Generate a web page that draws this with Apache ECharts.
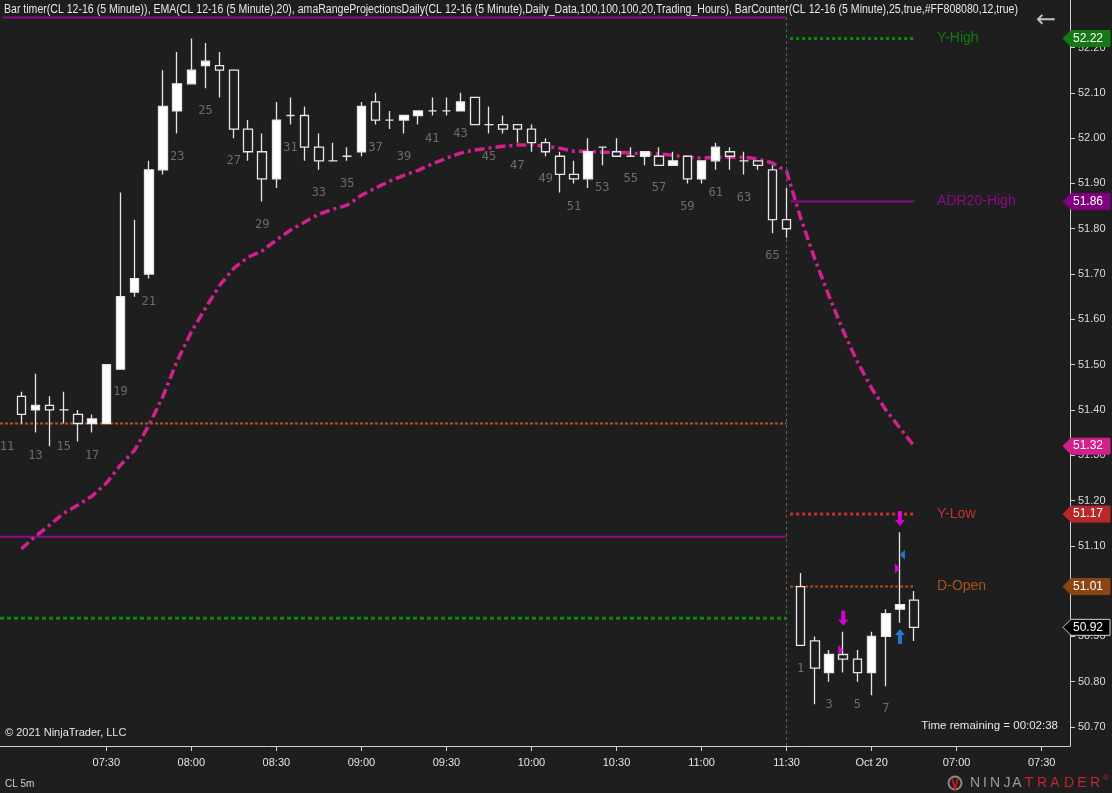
<!DOCTYPE html>
<html><head><meta charset="utf-8">
<script src="https://cdn.jsdelivr.net/npm/echarts@6/dist/echarts.min.js"></script>
<style>html,body{margin:0;padding:0;background:#1e1e1e;}#c{width:1112px;height:793px;}</style>
</head><body><div id="c"></div><script>
// ---- data ----
const barNumbers = [11,12,13,14,15,16,17,18,19,20,21,22,23,24,25,26,27,28,29,30,31,32,33,34,35,36,37,38,39,40,41,42,43,44,45,46,47,48,49,50,51,52,53,54,55,56,57,58,59,60,61,62,63,64,65,66,1,2,3,4,5,6,7,8,9];
const opens  = [null,51.43,51.40,51.41,51.40,51.39,51.37,51.37,51.49,51.66,51.70,51.93,52.06,52.12,52.16,52.16,52.15,52.02,51.97,51.91,52.05,52.05,51.98,51.95,51.96,51.97,52.08,52.04,52.04,52.05,52.06,52.06,52.06,52.09,52.03,52.03,52.03,52.02,51.99,51.96,51.92,51.91,51.98,51.97,51.96,51.96,51.96,51.94,51.96,51.91,51.95,51.97,51.95,51.95,51.93,51.82,51.01,50.89,50.82,50.86,50.85,50.82,50.90,50.96,50.98];
const highs  = [null,51.44,51.48,51.43,51.44,51.40,51.39,51.50,51.88,51.82,51.95,52.15,52.19,52.22,52.21,52.19,52.15,52.04,52.01,52.08,52.09,52.07,52.01,51.99,51.98,52.08,52.10,52.06,52.05,52.06,52.09,52.09,52.10,52.09,52.07,52.05,52.03,52.03,52.00,51.97,51.95,52.00,51.98,52.00,51.98,51.97,51.98,51.97,51.96,51.95,51.99,51.98,51.97,51.95,51.94,51.89,51.04,50.90,50.87,50.91,50.87,50.91,50.96,51.13,51.00];
const lows   = [51.37,51.37,51.35,51.32,51.37,51.33,51.35,51.37,51.49,51.65,51.69,51.92,52.01,52.12,52.11,52.09,52.00,51.95,51.86,51.89,52.03,51.95,51.93,51.95,51.95,51.96,52.03,52.02,52.01,52.03,52.05,52.05,52.06,52.03,52.01,52.01,51.99,51.97,51.96,51.88,51.90,51.89,51.94,51.96,51.96,51.94,51.94,51.94,51.90,51.90,51.93,51.93,51.92,51.93,51.79,51.78,50.88,50.75,50.80,50.82,50.80,50.77,50.79,50.93,50.89];
const closes = [null,51.39,51.41,51.40,51.40,51.37,51.38,51.50,51.65,51.69,51.93,52.07,52.12,52.15,52.17,52.15,52.02,51.97,51.91,52.04,52.05,51.98,51.95,51.95,51.96,52.07,52.04,52.04,52.05,52.06,52.06,52.06,52.08,52.03,52.03,52.02,52.02,51.99,51.97,51.92,51.91,51.97,51.98,51.96,51.96,51.97,51.94,51.95,51.91,51.95,51.98,51.96,51.95,51.94,51.82,51.80,50.88,50.83,50.86,50.85,50.82,50.90,50.95,50.97,50.92];
const emaValues = [null,51.093,51.121,51.146,51.172,51.190,51.210,51.238,51.278,51.311,51.366,51.430,51.508,51.572,51.625,51.675,51.713,51.737,51.751,51.775,51.797,51.815,51.832,51.843,51.852,51.874,51.890,51.905,51.918,51.929,51.943,51.956,51.967,51.974,51.978,51.982,51.985,51.985,51.982,51.978,51.971,51.971,51.969,51.969,51.967,51.965,51.965,51.962,51.958,51.956,51.958,51.958,51.958,51.954,51.945,51.927,51.823,51.733,51.651,51.574,51.506,51.448,51.400,51.360,51.320];
const timeTickIndex  = [7,13,19,25,31,37,43,49,55,61,67,73];
const timeTickLabels = ['07:30','08:00','08:30','09:00','09:30','10:00','10:30','11:00','11:30','Oct 20','07:00','07:30'];
const priceTicks = [50.7,50.8,50.9,51.0,51.1,51.2,51.3,51.4,51.5,51.6,51.7,51.8,51.9,52.0,52.1,52.2];
// previous-session projection levels
const prevLevelNames  = ['prevOpen','prevADR','prevHigh'];
const prevLevelValues = [51.37, 51.12, 50.94];
// current-session projection levels
const levelNames  = ['Y-High','ADR20-High','Y-Low','D-Open'];
const levelValues = [52.22, 51.86, 51.17, 51.01];
const emaLast = 51.32, lastPrice = 50.92;
// signal markers
const markerIndex  = [59, 59, 63, 63, 63, 63];
const markerPrices = [50.94, 50.87, 51.16, 51.08, 51.05, 50.90];
const markerKinds  = ['downArrow','rightTri','downArrow','leftTri','rightTri','upArrow'];

// ---- chart ----
const BG = '#1e1e1e';
const EMA_COLOR = '#d2208d';
const FONT = 'Liberation Sans, Arial, sans-serif';
const chart = echarts.init(document.getElementById('c'));
const N = barNumbers.length;
const sessionBreak = 55;
const candleData = [];
for (let i = 0; i < N; i++) {
  if (opens[i] == null) continue;
  candleData.push([i, opens[i], closes[i], lows[i], highs[i]]);
}
const labelData = [];
for (let i = 0; i < N - 1; i++) {
  if (barNumbers[i] % 2 === 1) labelData.push([i, lows[i], barNumbers[i]]);
}
const emaData = [];
emaValues.forEach((v, i) => { if (v != null) emaData.push([i, v]); });

const prevStyles = {
  prevOpen: {color:'#b5561b', width:2, type:[3,2]},
  prevADR:  {color:'#8b0a8b', width:2, type:'solid'},
  prevHigh: {color:'#0b8a0b', width:3, type:[4,3]}
};
const levelStyles = {
  'Y-High':     {color:'#0b8a0b', width:3, type:[3,3], text:'#0d7d0d'},
  'ADR20-High': {color:'#8b0a8b', width:2, type:'solid', text:'#8b0a8b'},
  'Y-Low':      {color:'#c8302f', width:3, type:[3,3], text:'#c8302f'},
  'D-Open':     {color:'#a8521c', width:2, type:[3,2], text:'#a8521c'}
};
const series = [];
prevLevelNames.forEach((n, k) => {
  const s = prevStyles[n];
  series.push({type:'line', name:n, data:[[-0.5, prevLevelValues[k]], [sessionBreak, prevLevelValues[k]]],
    symbol:'none', silent:true, z:2, lineStyle:{color:s.color, width:s.width, type:s.type}});
});
levelNames.forEach((n, k) => {
  const s = levelStyles[n];
  series.push({type:'line', name:n, data:[[sessionBreak + 0.25, levelValues[k]], [64, levelValues[k]]],
    symbol:'none', silent:true, z:2, lineStyle:{color:s.color, width:s.width, type:s.type},
    endLabel:{show:true, formatter:n, color:s.text, fontSize:14, fontFamily:FONT, distance:23}});
});
series.push({type:'line', name:'EMA', data:emaData, symbol:'none', silent:true, z:4,
  lineStyle:{color:EMA_COLOR, width:3.5, type:[10,4,3,4]}});
series.push({type:'candlestick', name:'CL', data:candleData, encode:{x:0, y:[1,2,3,4]}, barWidth:9, z:5,
  itemStyle:{color:'#ffffff', color0:BG, borderColor:'#e6e6e6', borderColor0:'#e6e6e6', borderColorDoji:'#e6e6e6', borderWidth:1.3},
  markLine:{silent:true, symbol:'none', label:{show:false}, data:[{xAxis:sessionBreak}],
    lineStyle:{color:'#5e5e5e', type:[3,3], width:1}}});
series.push({type:'scatter', name:'counter', data:labelData, symbolSize:0.1, silent:true, z:6,
  itemStyle:{color:'rgba(0,0,0,0)'},
  label:{show:true, position:'bottom', distance:17, formatter:p => String(p.value[2]),
    color:'#808080', fontSize:12, fontFamily:'DejaVu Sans Mono, monospace'}});
const markerStyle = {
  downArrow:{symbol:'path://M3,0 L7,0 L7,9 L10,9 L5,15 L0,9 L3,9 Z', size:[10,15], color:'#ff00ff', off:[0,0]},
  upArrow:{symbol:'path://M5,0 L10,6 L7,6 L7,15 L3,15 L3,6 L0,6 Z', size:[10,15], color:'#1e90ff', off:[0,0]},
  rightTri:{symbol:'path://M0,0 L6,5 L0,10 Z', size:[5,10], color:'#ff00ff', off:[-2.5,0]},
  leftTri:{symbol:'path://M6,0 L0,5 L6,10 Z', size:[5,10], color:'#1e90ff', off:[2.5,0]}
};
series.push({type:'scatter', name:'signals', silent:true, z:7,
  data: markerKinds.map((k, i) => {
    const s = markerStyle[k];
    return {value:[markerIndex[i], markerPrices[i]], symbol:s.symbol, symbolSize:s.size, symbolOffset:s.off, itemStyle:{color:s.color}};
  })});

chart.setOption({
  backgroundColor: BG,
  animation: false,
  grid: {left:0, right:42, top:0, bottom:47, containLabel:false, outerBoundsMode:'none'},
  xAxis: {type:'value', min:-0.5, max:75, splitLine:{show:false},
    axisLine:{show:true, onZero:false, lineStyle:{color:'#cfcfcf', width:1}},
    axisTick:{show:true, customValues:timeTickIndex, length:5, lineStyle:{color:'#cfcfcf'}},
    axisLabel:{customValues:timeTickIndex, color:'#dfe5ee', fontSize:11, fontFamily:FONT, margin:11,
      formatter:v => { const k = timeTickIndex.indexOf(Math.round(v)); return k >= 0 ? timeTickLabels[k] : ''; }}},
  yAxis: {type:'value', position:'right', min:50.658, max:52.305, scale:true, splitLine:{show:false},
    axisLine:{show:true, onZero:false, lineStyle:{color:'#cfcfcf', width:1}},
    axisTick:{show:true, customValues:priceTicks, length:5, lineStyle:{color:'#cfcfcf'}},
    axisLabel:{customValues:priceTicks, color:'#dcdcdc', fontSize:11, fontFamily:FONT, margin:8,
      formatter:v => v.toFixed(2)}},
  series: series
});

// price tags on the axis
function tag(price, fill, stroke) {
  const y = chart.convertToPixel({yAxisIndex:0}, price);
  return [
    {type:'polygon', z:100, shape:{points:[[1063,y],[1071,y-8],[1110,y-8],[1110,y+8],[1071,y+8]]},
      style:{fill:fill, stroke:stroke, lineWidth:1}},
    {type:'text', z:101, x:1088, y:y, style:{text:price.toFixed(2), fill:'#ffffff', font:'12px ' + FONT, align:'center', verticalAlign:'middle'}}
  ];
}
const tagColors = {'Y-High':'#137a13', 'ADR20-High':'#800080', 'Y-Low':'#b82828', 'D-Open':'#8b4513'};
let graphics = [];
levelNames.forEach((n, k) => { graphics = graphics.concat(tag(levelValues[k], tagColors[n], tagColors[n])); });
graphics = graphics.concat(tag(emaLast, EMA_COLOR, EMA_COLOR));
graphics = graphics.concat(tag(lastPrice, '#000000', '#d0d0d0'));

const headerText = 'Bar timer(CL 12-16 (5 Minute)), EMA(CL 12-16 (5 Minute),20), amaRangeProjectionsDaily(CL 12-16 (5 Minute),Daily_Data,100,100,100,20,Trading_Hours), BarCounter(CL 12-16 (5 Minute),25,true,#FF808080,12,true)';
const ctx = document.createElement('canvas').getContext('2d');
ctx.font = '12px ' + FONT;
const headerScale = 1014 / ctx.measureText(headerText).width;
graphics.push(
  {type:'text', z:100, x:4, y:10, scaleX:headerScale, style:{text:headerText, fill:'#e8e8e8', font:'12px ' + FONT, verticalAlign:'middle'}},
  {type:'line', z:99, shape:{x1:3, y1:17.5, x2:786, y2:17.5}, style:{stroke:'#8b0a8b', lineWidth:2}},
  {type:'text', z:100, x:1046, y:21, style:{text:'←', fill:'#c0c0c0', font:'24px DejaVu Sans', align:'center', verticalAlign:'middle'}},
  {type:'text', z:100, x:5, y:733, style:{text:'© 2021 NinjaTrader, LLC', fill:'#e6e6e6', font:'11px ' + FONT, verticalAlign:'middle'}},
  {type:'text', z:100, x:1058, y:726, style:{text:'Time remaining = 00:02:38', fill:'#e6e6e6', font:'11.5px ' + FONT, align:'right', verticalAlign:'middle'}},
  {type:'text', z:100, x:5, y:784, style:{text:'CL 5m', fill:'#d0d0d0', font:'10px ' + FONT, verticalAlign:'middle'}},
  {type:'circle', z:100, shape:{cx:955, cy:783, r:6.5}, style:{fill:'none', stroke:'#8a8a8a', lineWidth:2}},
  {type:'polyline', z:101, shape:{points:[[952,778],[955,789],[958,778]]}, style:{stroke:'#b81c24', lineWidth:2, fill:'none'}}
);
const logoLetters = ['N','I','N','J','A','T','R','A','D','E','R'];
const logoCenters = [975,985,995,1007,1017,1029,1042,1055,1069,1082,1095];
logoLetters.forEach((ch, i) => {
  graphics.push({type:'text', z:100, x:logoCenters[i], y:783, style:{text:ch, fill: i < 5 ? '#9a9a9a' : '#c0262e', font:'300 14px ' + FONT, align:'center', verticalAlign:'middle'}});
});
graphics.push({type:'text', z:100, x:1103, y:778, style:{text:'®', fill:'#c0262e', font:'8px ' + FONT, verticalAlign:'middle'}});
chart.setOption({graphic: graphics});
</script></body></html>
